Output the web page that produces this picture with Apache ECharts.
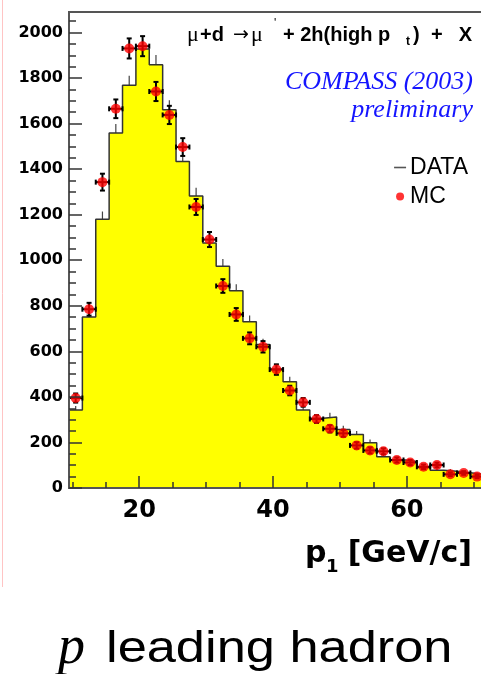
<!DOCTYPE html>
<html>
<head>
<meta charset="utf-8">
<script src="https://cdn.jsdelivr.net/npm/echarts@6/dist/echarts.min.js"></script>
<style>
  html, body { margin: 0; padding: 0; background: #ffffff; }
  #chart { width: 481px; height: 674px; }
</style>
</head>
<body>
<div id="chart"></div>
<script>
// ---- data (bins of 2 GeV/c starting at 9.5) ----
const binLow = 9.5;
const binWidth = 2;
const dataCounts = [342, 751, 1180, 1559, 1768, 1928, 1858, 1661, 1434, 1282,
                    1076, 974, 866, 730, 630, 522, 466, 343, 306, 312,
                    257, 235, 199, 137, 124, 116, 90, 78, 74, 67, 60];
const dataErrors = [18, 27, 34, 39, 42, 44, 43, 41, 38, 36,
                    33, 31, 29, 27, 25, 23, 22, 19, 18, 18,
                    16, 15, 14, 12, 11, 11, 10, 9, 9, 8, 8];
const mcCounts   = [395, 785, 1343, 1665, 1930, 1940, 1741, 1638, 1497, 1234,
                    1091, 887, 762, 657, 620, 520, 428, 376, 303, 260,
                    240, 187, 165, 161, 123, 112, 93, 101, 60, 66, 50];
const mcErrors   = [20, 28, 37, 41, 44, 44, 42, 40, 39, 35,
                    33, 30, 28, 26, 25, 23, 21, 19, 17, 16,
                    15, 14, 13, 13, 11, 11, 10, 10, 8, 8, 7];
const xMajorTicks = [20, 40, 60];
const xMinorTicks = [10, 15, 25, 30, 35, 45, 50, 55, 65, 70];
const yMajorTicks = [0, 200, 400, 600, 800, 1000, 1200, 1400, 1600, 1800, 2000];
const yMinorTicks = [50, 100, 150, 250, 300, 350, 450, 500, 550, 650, 700, 750,
                     850, 900, 950, 1050, 1100, 1150, 1250, 1300, 1350, 1450, 1500, 1550,
                     1650, 1700, 1750, 1850, 1900, 1950, 2050];

const xMin = 9.5, xMax = 74, yMin = 0, yMax = 2090;

const centers = dataCounts.map((v, i) => binLow + binWidth * (i + 0.5));
const stepData = dataCounts.map((v, i) => [binLow + binWidth * i, v]);
stepData.push([binLow + binWidth * dataCounts.length, dataCounts[dataCounts.length - 1]]);
const dataErrData = dataCounts.map((v, i) => [centers[i], v, dataErrors[i]]);
const mcData = mcCounts.map((v, i) => [centers[i], v]);
const mcErrData = mcCounts.map((v, i) => [centers[i], v, mcErrors[i], binWidth / 2]);

const chart = echarts.init(document.getElementById('chart'), null, { renderer: 'canvas' });

const axisColor = '#555';
const titleFont = 'bold 20px "Liberation Sans"';

function txt(x, y, text, font, extra) {
  return Object.assign({
    type: 'text', x: x, y: y, silent: true,
    style: { text: text, align: 'left', verticalAlign: 'middle', font: font, fill: '#000' }
  }, extra || {});
}

const option = {
  animation: false,
  backgroundColor: '#ffffff',
  grid: {
    left: 69, top: 12, right: -19.5, bottom: 186,
    outerBoundsMode: 'none', containLabel: false,
    show: true, borderColor: axisColor, borderWidth: 2, backgroundColor: 'transparent'
  },
  legend: {
    orient: 'vertical', right: 8, top: 151, align: 'left',
    itemWidth: 12, itemHeight: 8, itemGap: 6,
    textStyle: { fontFamily: 'Liberation Sans', fontSize: 23, color: '#000', padding: [0, 0, 0, -1] },
    data: [
      { name: 'DATA', icon: 'path://M0,0H12V1.6H0Z', itemStyle: { color: '#555' } },
      { name: 'MC', icon: 'circle', itemStyle: { color: '#ff0000' } }
    ]
  },
  xAxis: [
    {
      type: 'value', min: xMin, max: xMax, position: 'bottom', z: 10,
      axisLine: { show: true, onZero: false, lineStyle: { color: axisColor, width: 2 } },
      axisTick: { show: true, inside: true, length: 12, customValues: xMajorTicks, lineStyle: { color: '#333', width: 1.5 } },
      axisLabel: { show: true, customValues: xMajorTicks, margin: 11,
        fontFamily: 'DejaVu Sans', fontWeight: 'bold', fontSize: 24, color: '#000',
        formatter: v => String(v) },
      splitLine: { show: false }
    },
    {
      type: 'value', min: xMin, max: xMax, position: 'bottom', z: 10,
      axisLine: { show: false },
      axisTick: { show: true, inside: true, length: 6, customValues: xMinorTicks, lineStyle: { color: '#333', width: 1.5 } },
      axisLabel: { show: false },
      splitLine: { show: false }
    }
  ],
  yAxis: [
    {
      type: 'value', min: yMin, max: yMax, position: 'left', z: 10,
      axisLine: { show: true, onZero: false, lineStyle: { color: axisColor, width: 2 } },
      axisTick: { show: true, inside: true, length: 13, customValues: yMajorTicks, lineStyle: { color: '#333', width: 1.5 } },
      axisLabel: { show: true, customValues: yMajorTicks, margin: 6,
        fontFamily: 'DejaVu Sans', fontWeight: 'bold', fontSize: 16, color: '#000',
        formatter: v => String(v) },
      splitLine: { show: false }
    },
    {
      type: 'value', min: yMin, max: yMax, position: 'left', z: 10,
      axisLine: { show: false },
      axisTick: { show: true, inside: true, length: 7, customValues: yMinorTicks, lineStyle: { color: '#333', width: 1.5 } },
      axisLabel: { show: false },
      splitLine: { show: false }
    }
  ],
  series: [
    {
      name: 'DATA err', type: 'custom', z: 1, xAxisIndex: 0, yAxisIndex: 0,
      data: dataErrData, silent: true,
      renderItem: function (params, api) {
        const x = api.value(0), v = api.value(1), e = api.value(2);
        const p1 = api.coord([x, v - e]);
        const p2 = api.coord([x, v + e]);
        return { type: 'line', shape: { x1: p1[0], y1: p1[1], x2: p2[0], y2: p2[1] },
                 style: { stroke: '#444', lineWidth: 1.2 } };
      }
    },
    {
      name: 'DATA', type: 'line', z: 2, xAxisIndex: 0, yAxisIndex: 0,
      data: stepData, step: 'end', symbol: 'none', silent: true,
      lineStyle: { color: '#333', width: 1.5 },
      itemStyle: { color: '#555' },
      areaStyle: { color: '#ffff00', opacity: 1 }
    },
    {
      name: 'MC err', type: 'custom', z: 3, xAxisIndex: 0, yAxisIndex: 0,
      data: mcErrData, silent: true,
      renderItem: function (params, api) {
        const x = api.value(0), v = api.value(1), e = api.value(2), ex = api.value(3);
        const c = api.coord([x, v]);
        const top = api.coord([x, v + e]);
        const bot = api.coord([x, v - e]);
        const lft = api.coord([x - ex, v]);
        const rgt = api.coord([x + ex, v]);
        const cap = 2.5;
        const st = { stroke: '#000', lineWidth: 2 };
        return {
          type: 'group',
          children: [
            { type: 'line', shape: { x1: c[0], y1: top[1], x2: c[0], y2: bot[1] }, style: st },
            { type: 'line', shape: { x1: lft[0], y1: c[1], x2: rgt[0], y2: c[1] }, style: st },
            { type: 'line', shape: { x1: c[0] - cap, y1: top[1], x2: c[0] + cap, y2: top[1] }, style: st },
            { type: 'line', shape: { x1: c[0] - cap, y1: bot[1], x2: c[0] + cap, y2: bot[1] }, style: st },
            { type: 'line', shape: { x1: lft[0], y1: c[1] - cap, x2: lft[0], y2: c[1] + cap }, style: st },
            { type: 'line', shape: { x1: rgt[0], y1: c[1] - cap, x2: rgt[0], y2: c[1] + cap }, style: st }
          ]
        };
      }
    },
    {
      name: 'MC', type: 'scatter', z: 4, xAxisIndex: 0, yAxisIndex: 0,
      data: mcData, symbol: 'circle', symbolSize: 10, silent: true,
      itemStyle: { color: '#ff0000' }
    }
  ],
  graphic: [
    { type: 'line', shape: { x1: 2.5, y1: 0, x2: 2.5, y2: 587 }, style: { stroke: '#ffc4c4', lineWidth: 1 }, silent: true },
    // title: mu + d -> mu' + 2h(high p_t) + X
    txt(187, 35, 'μ', '22px "Liberation Serif"'),
    txt(200, 35, '+d', titleFont),
    txt(233, 35, '→', '19px "DejaVu Sans"'),
    txt(251, 35, 'μ', '22px "Liberation Serif"'),
    txt(274, 24, '\'', '12px "Liberation Sans"'),
    txt(283, 35, '+ 2h(high p', titleFont),
    txt(406, 42, 't', 'bold 12px "Liberation Sans"'),
    txt(413, 35, ')', titleFont),
    txt(431, 35, '+', titleFont),
    txt(472, 35, 'X', titleFont, { style: { text: 'X', align: 'right', verticalAlign: 'middle', font: titleFont, fill: '#000' } }),
    {
      type: 'text', x: 473, y: 82, silent: true,
      style: { text: 'COMPASS (2003)', align: 'right', verticalAlign: 'middle',
        font: 'italic 26px "Liberation Serif"', fill: '#1515ff' }
    },
    {
      type: 'text', x: 473, y: 110, silent: true,
      style: { text: 'preliminary', align: 'right', verticalAlign: 'middle',
        font: 'italic 26px "Liberation Serif"', fill: '#1515ff' }
    },
    txt(305, 554, 'p', 'bold 30px "DejaVu Sans"'),
    txt(326, 567, '1', 'bold 18px "DejaVu Sans"'),
    {
      type: 'text', x: 472, y: 554, silent: true,
      style: { text: '[GeV/c]', align: 'right', verticalAlign: 'middle',
        font: 'bold 30px "DejaVu Sans"', fill: '#000' }
    },
    txt(58, 649, 'p', 'italic 54px "Liberation Serif"'),
    txt(106, 650, 'leading hadron', '44px "Liberation Sans"', { scaleX: 1.19 })
  ]
};

chart.setOption(option);
</script>
</body>
</html>
